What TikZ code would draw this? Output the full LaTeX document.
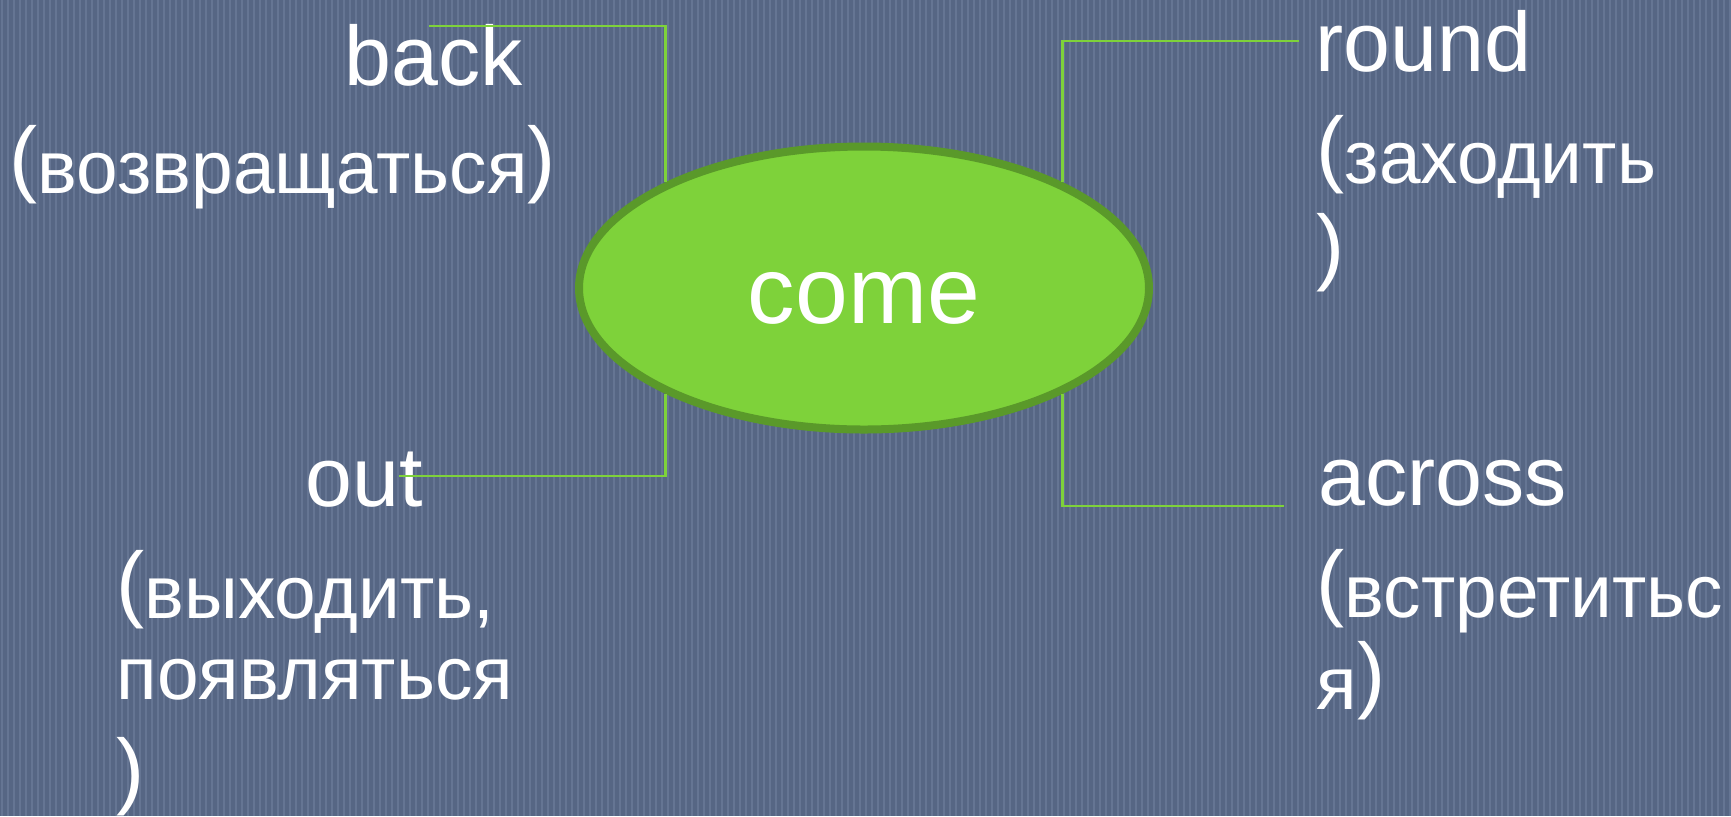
\documentclass[tikz,border=0pt]{standalone}
\usepackage{fontspec}
\setmainfont{Liberation Sans}
\usepackage{tikz}
\usetikzlibrary{positioning, shapes}
\usepackage{xcolor}

\definecolor{slate}{RGB}{86,102,132}
\definecolor{slateline}{RGB}{101,117,147}
\definecolor{leaf}{RGB}{126,210,58}
\definecolor{leafdark}{RGB}{90,153,42}

\newcommand{\opar}{\raisebox{0.07cm}{\fontsize{24}{24}\selectfont(}}
\newcommand{\cpar}{\raisebox{0.07cm}{\fontsize{24}{24}\selectfont)}}

\begin{document}
\begin{tikzpicture}[
		word/.style={text=white, inner sep=0pt, anchor=base west, font=\fontsize{24}{24}\selectfont},
		trans/.style={text=white, inner sep=0pt, anchor=base west, font=\fontsize{21.3}{21.3}\selectfont},
		link/.style={leaf, line width=0.8pt}]
		\useasboundingbox (0,0) rectangle (17.31,-8.16);
		\fill[slate] (0,0) rectangle (17.31,-8.16);
		\foreach \i in {0,...,288}
			\draw[slateline, line width=0.4pt] (\i*0.06+0.02,0) -- ++(0,-8.16);
		
		\node[ellipse, draw=leafdark, line width=0.08cm, fill=leaf, text=white,
			minimum width=5.70cm, minimum height=2.83cm,
			text height=0.7cm, text depth=0pt,
			font=\fontsize{27}{27}\selectfont] (come) at (8.64,-2.88) {come};
		
		% left side
		\node[word] (back) at (3.44,-0.85) {back};
		\node[trans] (backru) at (0.09,-1.93) {\opar возвращаться\cpar};
		\node[word] (out) at (3.05,-5.06) {out};
		\node[trans] (outru) at (1.16,-6.18) {\opar выходить,};
		\node[trans] (outrub) at (1.16,-6.99) {появляться};
		\node[trans] (outruc) at (1.16,-8.05) {\cpar};
		
		% right side
		\node[word] (round) at (13.15,-0.71) {round};
		\node[trans] (roundru) at (13.16,-1.83) {\opar заходить};
		\node[trans] (roundrub) at (13.16,-2.81) {\cpar};
		\node[word] (across) at (13.18,-5.05) {across};
		\node[trans] (acrossru) at (13.16,-6.17) {\opar встретитьс};
		\node[trans] (acrossrub) at (13.16,-7.09) {я\cpar};
		
		\coordinate (backend) at (4.29,-0.26);
		\coordinate (outend) at (3.99,-4.76);
		\coordinate (roundend) at (12.99,-0.41);
		\coordinate (acrossend) at (12.84,-5.06);
		
		\draw[link] (backend) -| (come.152);
		\draw[link] (outend) -| (come.208);
		\draw[link] (roundend) -| (come.28);
		\draw[link] (acrossend) -| (come.332);
	\end{tikzpicture}
\end{document}
